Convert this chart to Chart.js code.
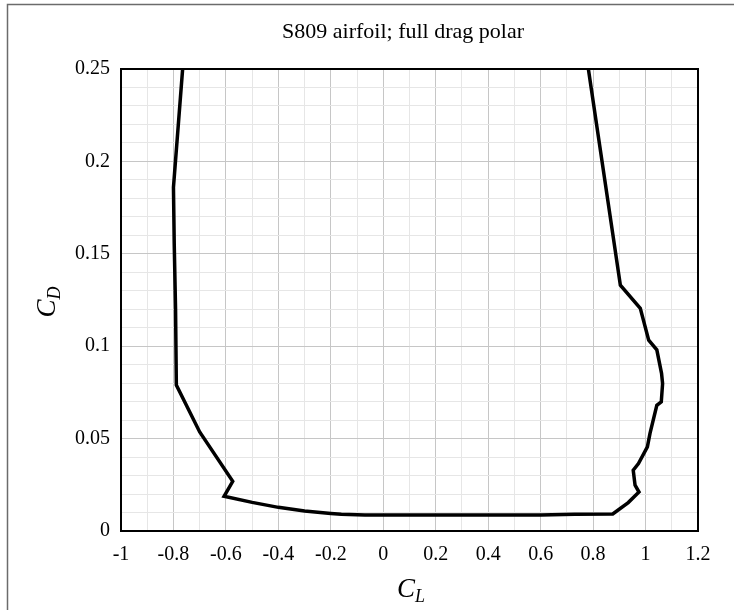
<!DOCTYPE html>
<html>
<head>
<meta charset="utf-8">
<script src="https://cdn.jsdelivr.net/npm/chart.js@4/dist/chart.umd.min.js"></script>
<style>
  body { margin: 0; background: #fff; }
  canvas { display: block; }
</style>
</head>
<body>
<canvas id="polar" width="734" height="610"></canvas>
<script>
// S809 full drag polar (CL, CD pairs, in path order)
const clValues = [-0.765, -0.800, -0.797, -0.792, -0.789, -0.700, -0.574, -0.607, -0.500, -0.400, -0.300, -0.200, -0.160, -0.070, 0.600, 0.730, 0.875, 0.934, 0.975, 0.960, 0.953, 0.973, 1.007, 1.017, 1.043, 1.060, 1.065, 1.061, 1.043, 1.012, 0.980, 0.904, 0.782]
const cdValues = [0.250, 0.186, 0.155, 0.120, 0.079, 0.0536, 0.0269, 0.0188, 0.0155, 0.0128, 0.0108, 0.0095, 0.0090, 0.0087, 0.0087, 0.0090, 0.0092, 0.0154, 0.0211, 0.0248, 0.0329, 0.0365, 0.0455, 0.0528, 0.0680, 0.0699, 0.0798, 0.0853, 0.0980, 0.1033, 0.1205, 0.1330, 0.250]

const xTickLabels = ['-1', '-0.8', '-0.6', '-0.4', '-0.2', '0', '0.2', '0.4', '0.6', '0.8', '1', '1.2']
const yTickLabels = ['0', '0.05', '0.1', '0.15', '0.2', '0.25']

const titleText = 'S809 airfoil; full drag polar'
const serif = "'Liberation Serif', 'Times New Roman', serif"

const points = clValues.map((cl, i) => ({ x: cl, y: cdValues[i] }))

function xMajor(v) {
    const k = Math.round((v + 1) * 10)
    return k % 2 === 0 ? k / 2 : -1
}
function yMajor(v) {
    const k = Math.round(v * 100)
    return k % 5 === 0 ? k / 5 : -1
}

// title, axis titles with subscripts, plot border and outer frame
const decorations = {
    id: 'decorations',
    afterDraw(chart) {
        const ctx = chart.ctx
        const a = chart.chartArea
        ctx.save()

        ctx.strokeStyle = '#6b6b6b'
        ctx.lineWidth = 1.5
        ctx.beginPath()
        ctx.moveTo(7.5, 610)
        ctx.lineTo(7.5, 4.5)
        ctx.lineTo(734, 4.5)
        ctx.stroke()

        ctx.strokeStyle = '#000'
        ctx.lineWidth = 2
        ctx.strokeRect(a.left, a.top, a.right - a.left, a.bottom - a.top)

        ctx.fillStyle = '#000'
        ctx.textAlign = 'center'
        ctx.textBaseline = 'alphabetic'
        ctx.font = '22px ' + serif
        ctx.fillText(titleText, 403, 38)

        function subLabel(main, sub, x, y, rot) {
            ctx.save()
            ctx.translate(x, y)
            ctx.rotate(rot)
            ctx.textAlign = 'left'
            ctx.font = 'italic 27px ' + serif
            const w1 = ctx.measureText(main).width
            ctx.font = 'italic 18px ' + serif
            const w2 = ctx.measureText(sub).width
            const x0 = -(w1 + w2) / 2
            ctx.font = 'italic 27px ' + serif
            ctx.fillText(main, x0, 0)
            ctx.font = 'italic 18px ' + serif
            ctx.fillText(sub, x0 + w1, 5)
            ctx.restore()
        }
        subLabel('C', 'L', 411, 597, 0)
        subLabel('C', 'D', 55, 302, -Math.PI / 2)

        ctx.restore()
    }
}

new Chart(document.querySelector('#polar'), {
    type: 'scatter',
    data: {
        datasets: [{
            data: points,
            showLine: true,
            borderColor: '#000',
            borderWidth: 3.5,
            pointRadius: 0,
            tension: 0,
            fill: false,
        }]
    },
    options: {
        responsive: false,
        animation: false,
        devicePixelRatio: 1,
        layout: { padding: { top: 69, right: 36, bottom: 0, left: 0 } },
        plugins: { legend: { display: false }, tooltip: { enabled: false } },
        scales: {
            x: {
                type: 'linear',
                min: -1,
                max: 1.2,
                afterFit: s => { s.height = 79 },
                border: { display: false },
                grid: {
                    drawTicks: false,
                    color: c => xMajor(c.tick.value) >= 0 ? '#c6c6c6' : '#e6e6e6',
                    lineWidth: 1,
                },
                ticks: {
                    stepSize: 0.1,
                    autoSkip: false,
                    maxRotation: 0,
                    padding: 12,
                    color: '#000',
                    font: { family: serif, size: 20 },
                    callback: v => { const k = xMajor(v); return k >= 0 ? xTickLabels[k] : '' },
                },
            },
            y: {
                min: 0,
                max: 0.25,
                afterFit: s => { s.width = 121 },
                border: { display: false },
                grid: {
                    drawTicks: false,
                    color: c => yMajor(c.tick.value) >= 0 ? '#c6c6c6' : '#e6e6e6',
                    lineWidth: 1,
                },
                ticks: {
                    stepSize: 0.01,
                    autoSkip: false,
                    padding: 11,
                    color: '#000',
                    font: { family: serif, size: 20 },
                    callback: v => { const k = yMajor(v); return k >= 0 ? yTickLabels[k] : '' },
                },
            },
        },
    },
    plugins: [decorations],
})
</script>
</body>
</html>
